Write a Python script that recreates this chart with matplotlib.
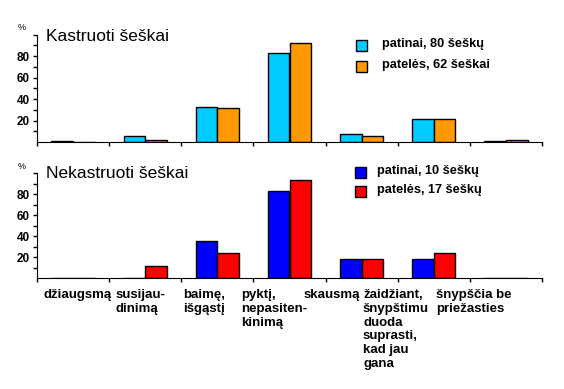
import matplotlib.pyplot as plt
from matplotlib.patches import Rectangle
import numpy as np

plt.rcParams['font.family'] = ['Liberation Sans', 'DejaVu Sans']

categories = ['džiaugsmą', 'susijau-\ndinimą', 'baimę,\nišgąstį', 'pyktį,\nnepasiten-\nkinimą',
              'skausmą', 'žaidžiant,\nšnypštimu\nduoda\nsuprasti,\nkad jau\ngana', 'šnypščia be\npriežasties']

# kastruoti
kast_patinai = [1, 5.5, 33, 82.5, 7.5, 22, 1]
kast_pateles = [0, 2.5, 31.5, 92.5, 5.5, 21.5, 2.5]
# nekastruoti
nek_patinai = [0, 0, 36, 83, 18, 18, 0]
nek_pateles = [0, 12, 24, 94, 18, 24, 0]

W, H = 564, 389
fig = plt.figure(figsize=(W / 100, H / 100), dpi=100)


def px_axes(x0, y0, x1, y1):
    return fig.add_axes([x0 / W, 1 - y1 / H, (x1 - x0) / W, (y1 - y0) / H])


def panel(ax, left, right, c1, c2, title, title_dy):
    x = np.arange(len(categories))
    bw = 0.3
    ax.bar(x - bw / 2, left, bw, color=c1, edgecolor='black', linewidth=1)
    ax.bar(x + bw / 2, right, bw, color=c2, edgecolor='black', linewidth=1)
    ax.set_xlim(-0.5, len(categories) - 0.5)
    ax.set_ylim(0, 100)
    ax.set_xticks(np.arange(-0.5, len(categories)))
    ax.set_xticklabels([])
    ax.set_yticks(np.arange(10, 101, 10))
    ax.set_yticklabels(['', '20', '', '40', '', '60', '', '80', '', ''],
                       fontsize=8.5, fontweight='bold')
    ax.tick_params(length=3, width=1, pad=2)
    for s in ['top', 'right']:
        ax.spines[s].set_visible(False)
    ax.text(0.018, 1.0 - title_dy, title, transform=ax.transAxes, fontsize=12.5,
            va='center', ha='left')
    ax.text(-0.03, 1.02, '%', transform=ax.transAxes, fontsize=6.5, ha='center', va='bottom')


def legend_item(x, y, tx, color, label):
    fig.patches.append(Rectangle((x / W, 1 - (y + 11) / H), 11 / W, 11 / H,
                                 transform=fig.transFigure, facecolor=color,
                                 edgecolor='black', linewidth=1))
    fig.text(tx / W, 1 - (y + 4) / H, label, fontsize=9.2, fontweight='bold',
             va='center', ha='left')


ax1 = px_axes(37, 34.5, 542, 142.2)
panel(ax1, kast_patinai, kast_pateles, '#00CCFF', '#FF9900', 'Kastruoti šeškai', 0.015)
legend_item(356, 40, 382, '#00CCFF', 'patinai, 80 šeškų')
legend_item(356, 61, 382, '#FF9900', 'patelės, 62 šeškai')

ax2 = px_axes(37, 173.3, 542, 278.3)
panel(ax2, nek_patinai, nek_pateles, '#0000FF', '#FF0000', 'Nekastruoti šeškai', 0.0)
legend_item(355, 167, 377, '#0000FF', 'patinai, 10 šeškų')
legend_item(355, 186, 377, '#FF0000', 'patelės, 17 šeškų')

label_x = [43, 116, 183, 241, 304, 363, 436]
for lx, lab in zip(label_x, categories):
    fig.text(lx / W, 1 - 289 / H, lab, fontsize=9.5, fontweight='bold',
             ha='left', va='top', linespacing=1.2)

fig.savefig('out.png', dpi=100)
